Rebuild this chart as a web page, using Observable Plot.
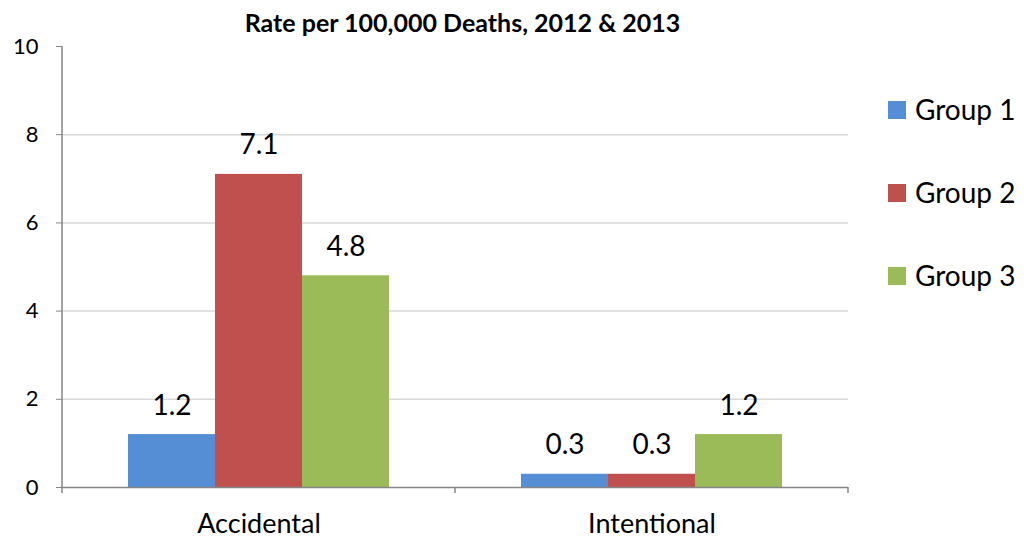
<!DOCTYPE html>
<html>
<head>
<meta charset="utf-8">
<script src="https://cdn.jsdelivr.net/npm/d3@7"></script>
<script src="https://cdn.jsdelivr.net/npm/@observablehq/plot@0.6"></script>
<style>
  html, body { margin: 0; padding: 0; background: #fff; }
  #wrap { position: relative; width: 1027px; height: 540px; font-family: Lato, "Open Sans", sans-serif; }
  #title { position: absolute; left: 0; width: 925px; top: 10px; line-height: 1; text-align: center; font-weight: bold; font-size: 25px; color: #000; }
  #legend { position: absolute; left: 888px; top: 0; }
  .item { position: absolute; left: 0; display: flex; align-items: center; white-space: nowrap; font-size: 28px; line-height: 1.2; color: #000; }
  .sw { width: 18px; height: 18px; margin-right: 9px; }
</style>
</head>
<body>
<div id="wrap">
  <div id="title"></div>
  <div id="chart"></div>
  <div id="legend"></div>
</div>
<script>
const title = "Rate per 100,000 Deaths, 2012 & 2013";
const categories = ["Accidental", "Intentional"];
const groups = ["Group 1", "Group 2", "Group 3"];
const group1 = [1.2, 0.3];
const group2 = [7.1, 0.3];
const group3 = [4.8, 1.2];
const colors = ["#558ED5", "#C0504D", "#9BBB59"];
const yTicks = [0, 2, 4, 6, 8, 10];
const gridTicks = [2, 4, 6, 8];

const series = [group1, group2, group3];
const data = [];
categories.forEach((c, ci) => groups.forEach((g, gi) => data.push({category: c, group: g, value: series[gi][ci]})));

document.getElementById("title").textContent = title;

const chart = Plot.plot({
  width: 1027,
  height: 540,
  marginLeft: 62,
  marginRight: 179,
  marginTop: 46,
  marginBottom: 53,
  style: {fontFamily: "Lato, 'Open Sans', sans-serif", background: "#fff", color: "#000"},
  fx: {domain: categories, padding: 0, axis: null},
  x: {domain: groups, paddingInner: 0, paddingOuter: 0.75, axis: null},
  y: {domain: [0, 10], axis: null},
  color: {domain: groups, range: colors},
  marks: [
    Plot.gridY(gridTicks, {stroke: "#D9D9D9", strokeOpacity: 1, strokeWidth: 1.5}),
    Plot.barY(data, {fx: "category", x: "group", y: "value", fill: "group", inset: 0}),
    Plot.ruleY([0], {stroke: "#868686", strokeWidth: 1.5}),
    Plot.axisY({ticks: yTicks, tickSize: 6, tickPadding: 18, fontSize: 22, stroke: "#868686", tickFormat: d => d, label: null}),
    Plot.axisFx({tickSize: 0, tickPadding: 26, fontSize: 27, label: null, anchor: "bottom"}),
    Plot.text(data, {fx: "category", x: "group", y: "value", text: d => d.value.toFixed(1), lineAnchor: "bottom", dy: -20, fontSize: 28, fill: "#000"})
  ]
});
document.getElementById("chart").appendChild(chart);

// y-axis line and category boundary ticks, placed with Plot's own scales
const fx = chart.scale("fx");
const y = chart.scale("y");
const svg = d3.select(chart);
const left = fx.range[0], right = fx.range[1];
svg.append("line").attr("x1", left).attr("x2", left)
  .attr("y1", y.apply(10)).attr("y2", y.apply(0))
  .attr("stroke", "#868686").attr("stroke-width", 1.5);
const bounds = categories.map(c => fx.apply(c)).concat([right]);
svg.selectAll("line.bt").data(bounds).join("line").attr("class", "bt")
  .attr("x1", d => d).attr("x2", d => d)
  .attr("y1", y.apply(0)).attr("y2", y.apply(0) + 6)
  .attr("stroke", "#868686").attr("stroke-width", 1.5);

// legend
const legend = document.getElementById("legend");
const itemTops = [93, 176, 259];
groups.forEach((g, i) => {
  const it = document.createElement("div");
  it.className = "item";
  it.style.top = itemTops[i] + "px";
  const sw = document.createElement("div");
  sw.className = "sw";
  sw.style.background = colors[i];
  const t = document.createElement("span");
  t.textContent = g;
  it.appendChild(sw); it.appendChild(t);
  legend.appendChild(it);
});
</script>
</body>
</html>
